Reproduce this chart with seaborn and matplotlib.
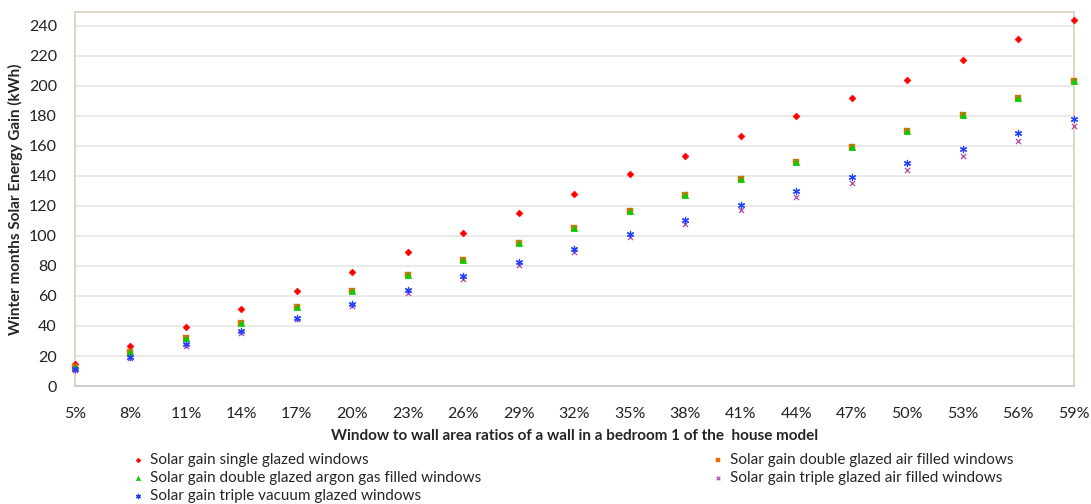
#!/usr/bin/env python3
"""Winter months solar energy gain vs window-to-wall ratio, bedroom 1."""

import numpy as np
import pandas as pd
import seaborn as sns
import matplotlib.pyplot as plt
from matplotlib.ticker import FixedLocator, MultipleLocator, FuncFormatter

RATIOS = [5, 8, 11, 14, 17, 20, 23, 26, 29, 32, 35, 38, 41, 44, 47, 50, 53, 56, 59]

SINGLE = [15, 27, 39, 51, 63.5, 76, 89, 102, 115, 128, 141, 153, 166.5, 179.5, 192, 204, 217, 231, 244]
DOUBLE_AIR = [13, 22.5, 32, 42, 52.5, 63, 74, 84, 95, 105.5, 116.5, 127, 138, 149, 159.5, 169.5, 180.5, 192, 203]
DOUBLE_ARGON = [13, 22.5, 32, 42, 52.5, 63, 74, 84, 95, 105.5, 116.5, 127, 138, 149, 159.5, 169.5, 180.5, 192, 203]
TRIPLE_AIR = [11, 19, 27, 35.5, 44.5, 53.5, 62, 71, 80.5, 89.5, 99, 108, 117, 126, 135, 144, 153, 163, 173]
TRIPLE_VACUUM = [11.5, 19.5, 28, 36.5, 45.5, 54.5, 64, 73, 82.5, 91.5, 101, 110.5, 120.5, 130, 139.5, 148.5, 158, 168.5, 178]

SERIES = [
    ("Solar gain single glazed windows", SINGLE, "#ff0000", "D", 13),
    ("Solar gain double glazed air filled windows", DOUBLE_AIR, "#e46c0a", "s", 18),
    ("Solar gain double glazed argon gas filled windows", DOUBLE_ARGON, "#00d000", "^", 22),
    ("Solar gain triple glazed air filled windows", TRIPLE_AIR, "#b04aa8", "x", 14),
    ("Solar gain triple vacuum glazed windows", TRIPLE_VACUUM, "#2040ff", (6, 2, 0), 20),
]

sns.set_style("white")
plt.rcParams["font.family"] = ["Lato", "DejaVu Sans"]

fig = plt.figure(figsize=(10.91, 5.04), dpi=100)
ax = fig.add_axes([0.0687, 0.234, 0.9153, 0.742])

# horizontal gridlines
ax.yaxis.grid(True, color="#e6e6e6", linewidth=1.2)
ax.set_axisbelow(True)

handles = {}
for label, vals, color, marker, size in SERIES:
    df = pd.DataFrame({"ratio": RATIOS, "gain": vals})
    thin = marker in ("x", (6, 2, 0))
    sns.scatterplot(data=df, x="ratio", y="gain", ax=ax, color=color,
                    marker=marker, s=size, edgecolor=None if thin else color,
                    linewidth=0.9 if thin else 0.3,
                    label=label, legend=False, zorder=3, clip_on=False)
    handles[label] = ax.collections[-1]

ax.set_xlim(RATIOS[0], RATIOS[-1])
ax.set_ylim(0, 249)
ax.xaxis.set_major_locator(FixedLocator(RATIOS))
ax.xaxis.set_minor_locator(FixedLocator(np.linspace(RATIOS[0], RATIOS[-1], 91)))
ax.xaxis.set_major_formatter(FuncFormatter(lambda v, p: f"{v:.0f}%"))
ax.yaxis.set_major_locator(MultipleLocator(20))
ax.yaxis.set_minor_locator(MultipleLocator(4))

spine_col = "#d8d0bb"
for s in ax.spines.values():
    s.set_color(spine_col)
    s.set_linewidth(1.2)
ax.spines["bottom"].set_color("#c8c8c8")

ax.tick_params(axis="y", which="both", direction="out", colors=spine_col)
ax.tick_params(axis="x", which="both", direction="out", colors="#c8c8c8")
ax.tick_params(axis="both", which="both", labelcolor="#222222", labelsize=11.5)
ax.tick_params(axis="x", which="major", length=9, pad=6)
ax.tick_params(axis="x", which="minor", length=5)
ax.tick_params(axis="y", which="major", length=9, pad=4)
ax.tick_params(axis="y", which="minor", length=4)

ax.set_xlabel("Window to wall area ratios of a wall in a bedroom 1 of the  house model",
              fontsize=11, fontweight="bold", labelpad=6)
ax.set_ylabel("Winter months Solar Energy Gain (kWh)", fontsize=11,
              fontweight="bold", labelpad=4)

names = [s[0] for s in SERIES]
left = [names[0], names[2], names[4]]
right = [names[1], names[3]]
common = dict(frameon=False, fontsize=11, handlelength=0.6, handletextpad=0.5,
              labelspacing=0.28, borderpad=0, markerscale=0.7)
leg1 = fig.legend([handles[n] for n in left], left, loc="upper left",
                  bbox_to_anchor=(126 / 1091, 1 - 445 / 504), **common)
leg2 = fig.legend([handles[n] for n in right], right, loc="upper left",
                  bbox_to_anchor=(706 / 1091, 1 - 445 / 504), **common)

fig.savefig("out.png", dpi=100)
plt.close(fig)
